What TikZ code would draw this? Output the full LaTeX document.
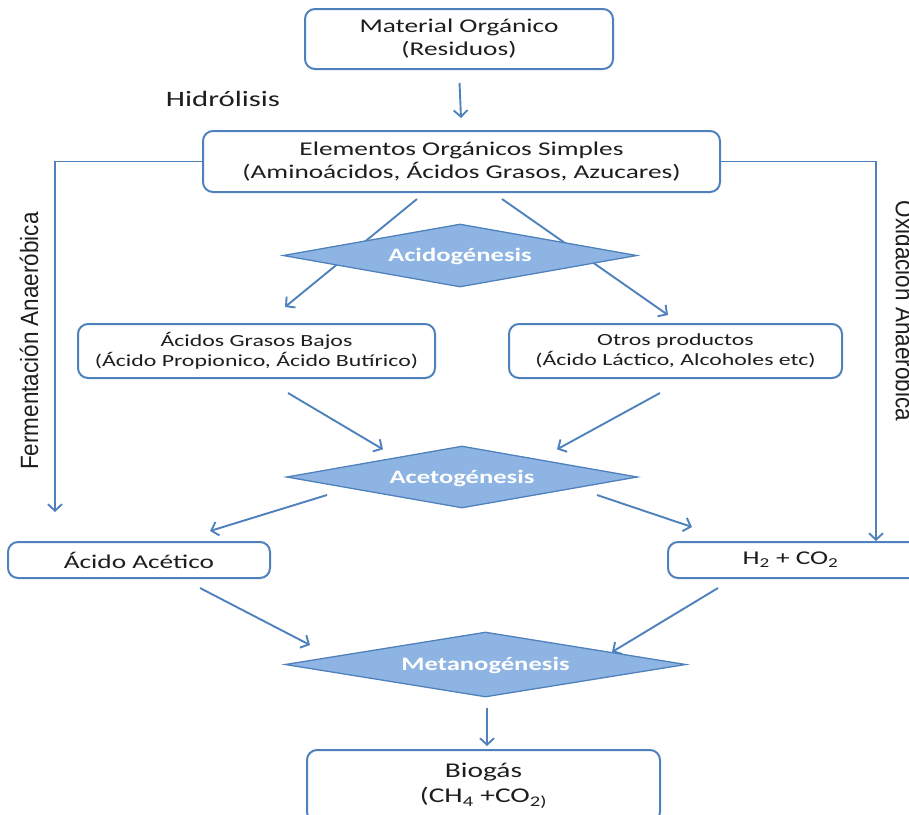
\documentclass[tikz,border=0pt]{standalone}
\usepackage{fontspec}
\setmainfont{Carlito}[FakeStretch=1.4]
\newfontfamily\sidefont{Liberation Sans}[FakeStretch=0.9]
\usetikzlibrary{arrows.meta,shapes.geometric,calc,backgrounds}
\definecolor{flowblue}{RGB}{79,129,189}
\definecolor{stagefill}{RGB}{141,180,226}
\definecolor{inkgray}{RGB}{30,30,30}
% stage labels take no room, so the diamond size comes from its minimum width/height
\newcommand{\stagetext}[1]{\makebox[0pt]{\raisebox{-0.32em}[0pt][0pt]{#1}}}
\tikzset{
  box/.style={draw=flowblue, line width=2pt, rounded corners=10pt, fill=white,
              align=center, inner sep=0pt, text=inkgray},
  bigtext/.style={font=\fontsize{19.5}{23}\selectfont},
  smalltext/.style={font=\fontsize{17}{20.5}\selectfont},
  stage/.style={diamond, draw=flowblue, line width=1.3pt, fill=stagefill, inner sep=0pt,
                text=white, font=\bfseries\fontsize{19}{23}\selectfont},
  flow/.style={draw=flowblue, line width=1.9pt,
               -{Straight Barb[length=6.5pt,width=14pt,line width=1.9pt]}},
  sidelabel/.style={font=\sidefont\fontsize{25}{28}\selectfont, text=inkgray, inner sep=0pt}
}
\begin{document}
\begin{tikzpicture}[x=1pt,y=-1pt]
\useasboundingbox (0,0) rectangle (909,814);

% boxes
\node[box, bigtext, minimum width=308pt, minimum height=60pt] (mat) at (459,39)
  {Material Orgánico\\(Residuos)};
\node[box, bigtext, minimum width=517pt, minimum height=61pt] (e2) at (461.5,161.5)
  {Elementos Orgánicos Simples\\(Aminoácidos, Ácidos Grasos, Azucares)};
\node[box, smalltext, minimum width=357pt, minimum height=54pt] (gl) at (256.5,351)
  {Ácidos Grasos Bajos\\(Ácido Propionico, Ácido Butírico)};
\node[box, smalltext, minimum width=333pt, minimum height=54pt] (op) at (675.5,351)
  {Otros productos\\(Ácido Láctico, Alcoholes etc)};
\node[box, bigtext, minimum width=262pt, minimum height=36pt] (aa) at (139,560)
  {Ácido Acético};
\node[box, bigtext, minimum width=257pt, minimum height=36pt] (h2) at (796.5,560)
  {\hspace*{-6pt}H\textsubscript{2} + CO\textsubscript{2}\hspace*{6pt}};
\node[box, font=\fontsize{21}{25}\selectfont, minimum width=353pt, minimum height=72pt] (bio) at (483.5,786)
  {Biogás\\(CH\textsubscript{4} +CO\textsubscript{2)}};

% process stages
\node[stage, minimum width=354pt, minimum height=63pt] (acid) at (460,255.5) {\stagetext{Acidogénesis}};
\node[stage, minimum width=351pt, minimum height=62pt] (aceto) at (462,477) {\stagetext{Acetogénesis}};
\node[stage, minimum width=401pt, minimum height=65pt] (meta) at (485.5,664.5) {\stagetext{Metanogénesis}};

% labels
\node[font=\fontsize{22}{26}\selectfont, text=inkgray, inner sep=0pt] (hidro) at (223,99) {Hidrólisis};
\node[sidelabel, rotate=90] (ferm) at (29,341) {Fermentación Anaeróbica};
\node[sidelabel, rotate=-90] (oxid) at (905,311) {Oxidación Anaeróbica};

\coordinate (fermend) at (55,512);
\coordinate (oxidend) at (876,541);

% connectors
\begin{scope}[on background layer]
  \draw[flow, shorten <=13pt, shorten >=12pt] (mat.south) -- (e2.north);
  \draw[flow] (e2.west) -| (fermend);
  \draw[flow] (e2.east) -| (oxidend);
  \draw[flow] ($(e2.south)+(-44.5,6)$) -- ($(gl.north)+(28.5,-16)$);
  \draw[flow] ($(e2.south)+(40.5,6)$) -- ($(op.north)+(-7.5,-8)$);
  \draw[flow] ($(gl.south)+(31.5,14)$) -- ($(aceto.north)+(-79,4)$);
  \draw[flow] ($(op.south)+(-15.5,14)$) -- ($(aceto.north)+(95,4)$);
  \draw[flow] ($(aceto.center)+(-135,18)$) -- ($(aa.north)+(71,-10)$);
  \draw[flow] ($(aceto.center)+(135,18)$) -- ($(h2.north)+(-104.5,-14)$);
  \draw[flow] ($(aa.south)+(61,9)$) -- ($(meta.center)+(-175.5,-19.5)$);
  \draw[flow] ($(h2.south)+(-78.5,9)$) -- ($(meta.center)+(126.5,-12.5)$);
  \draw[flow] ($(meta.south)+(1.5,10)$) -- ($(bio.north)+(3.5,-3)$);
\end{scope}
\end{tikzpicture}
\end{document}
